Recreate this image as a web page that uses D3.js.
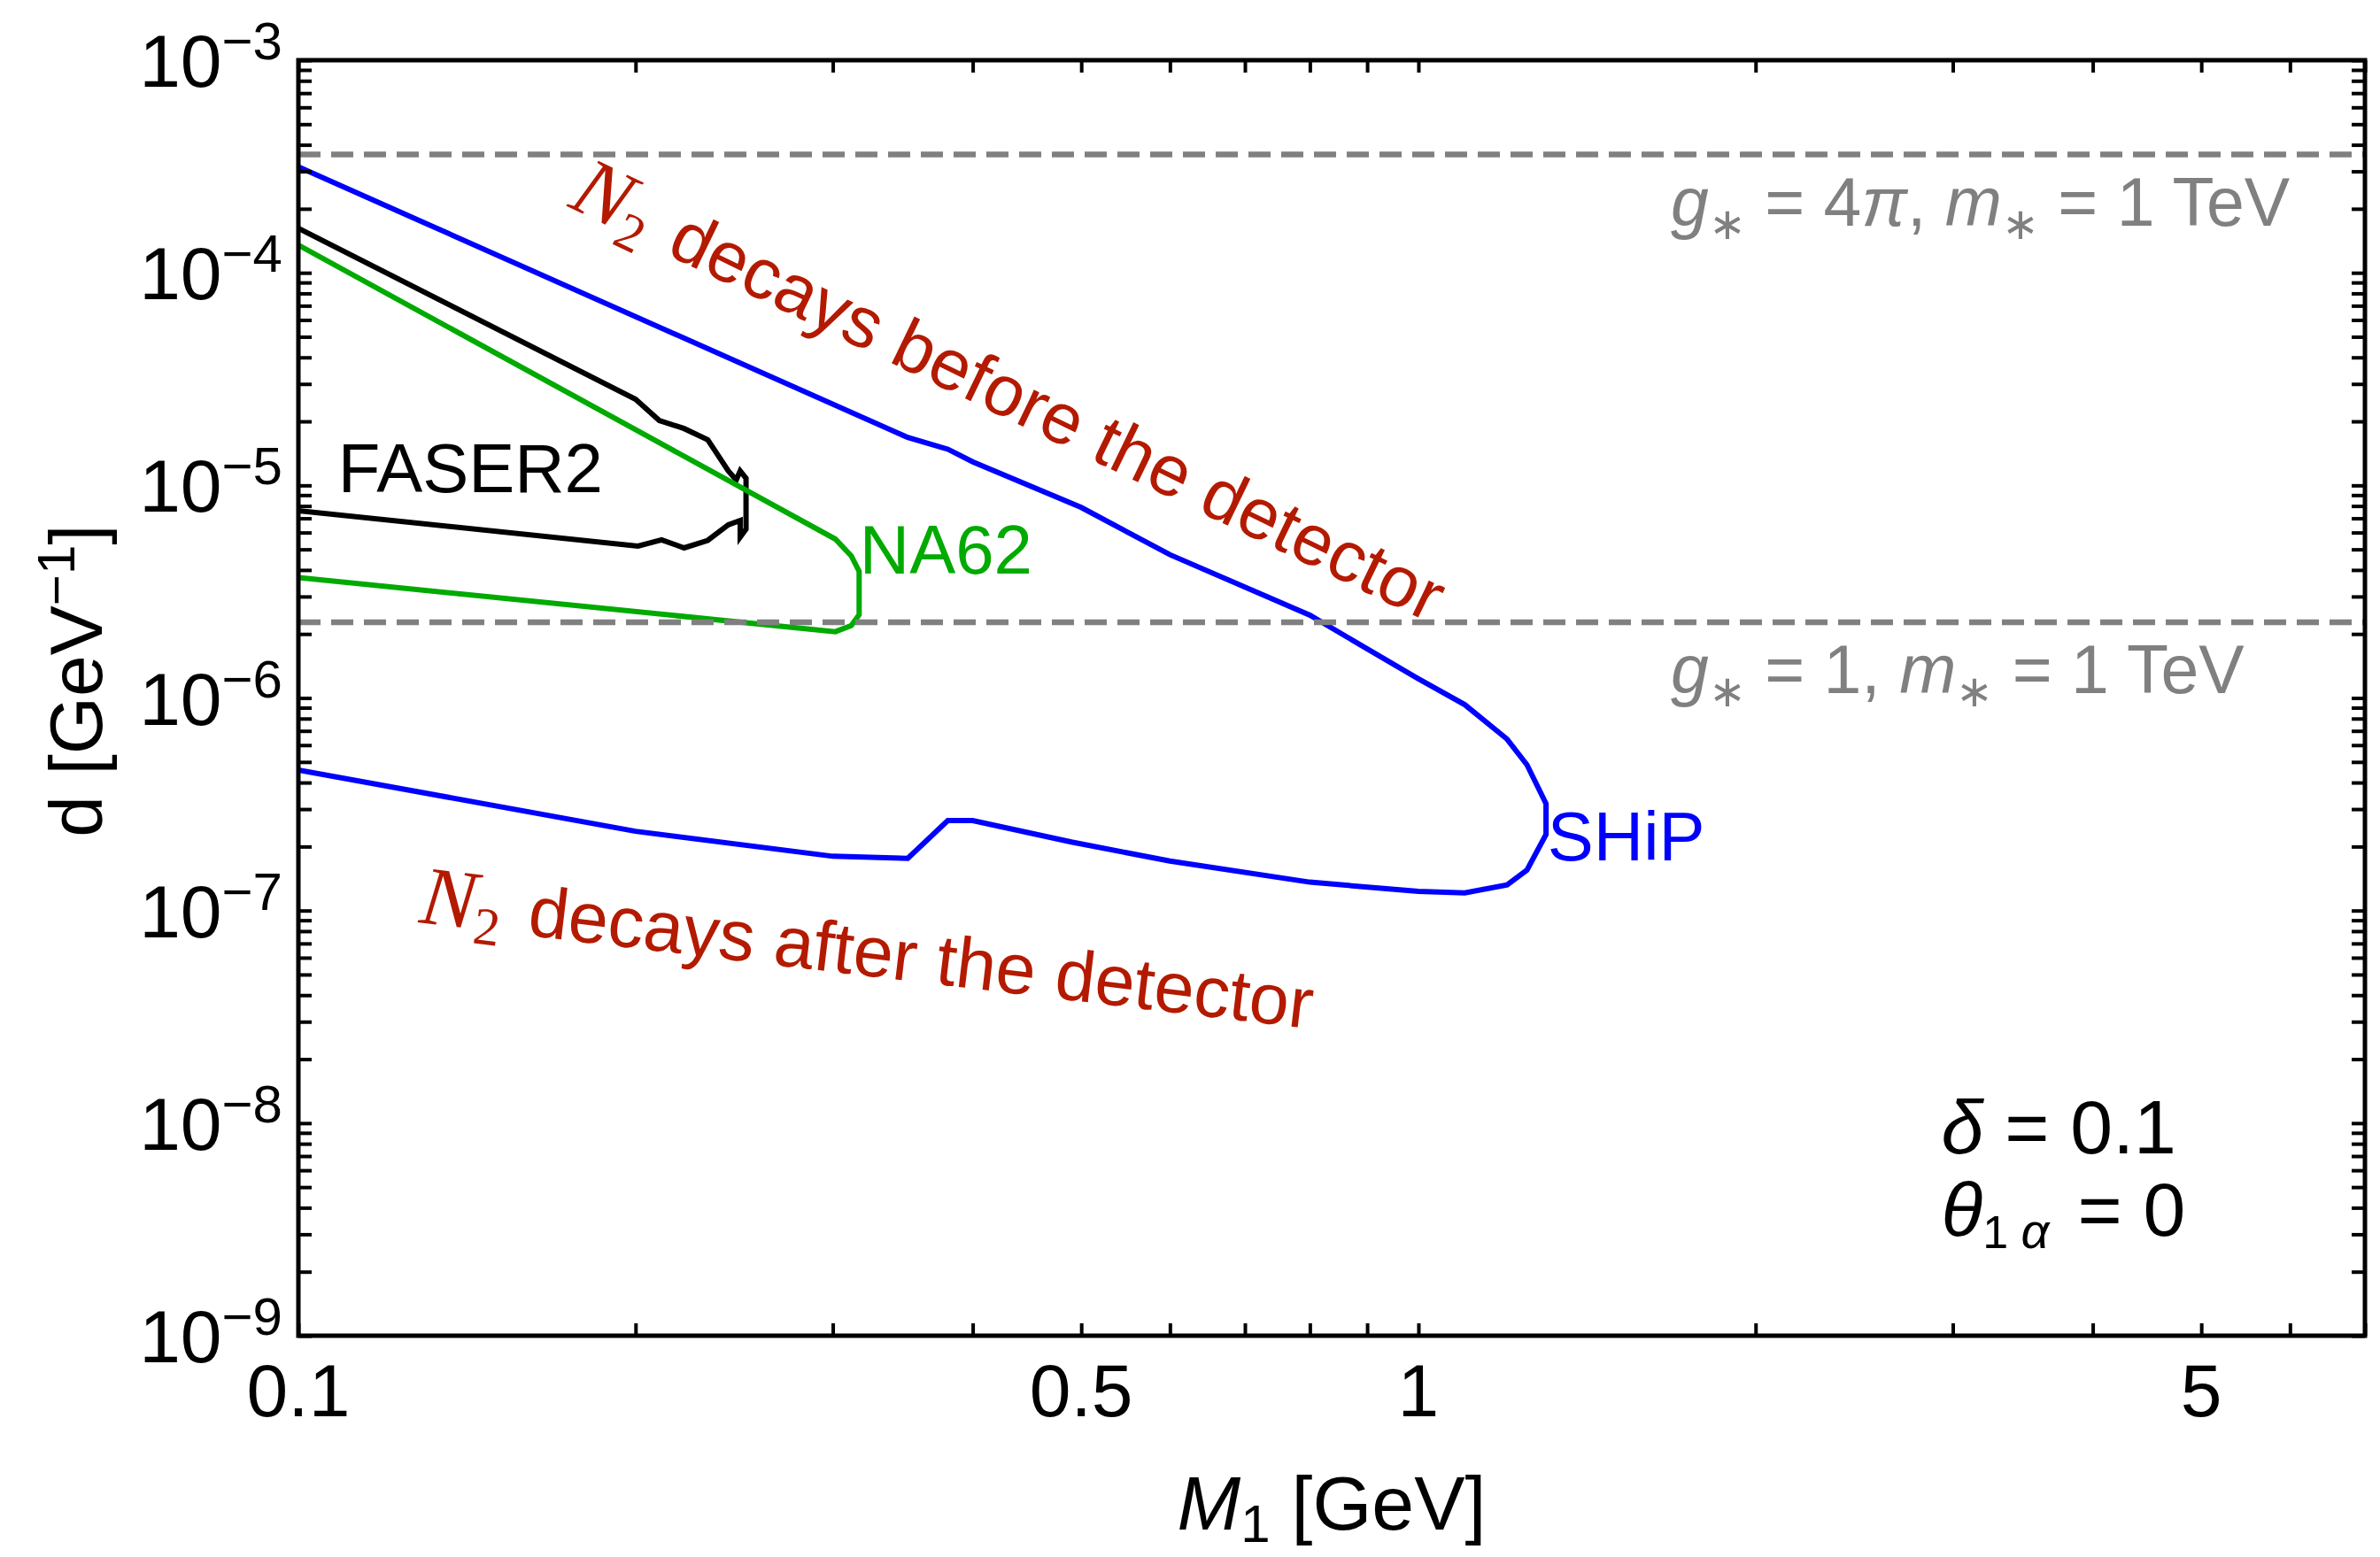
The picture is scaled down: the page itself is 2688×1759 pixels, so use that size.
<!DOCTYPE html>
<html>
<head>
<meta charset="utf-8">
<script src="https://cdn.jsdelivr.net/npm/d3@7/dist/d3.min.js"></script>
<style>
  body { margin: 0; background: #fff; }
  svg { display: block; }
  text { white-space: pre; font-family: "Liberation Sans", Arial, sans-serif; }
</style>
</head>
<body>
<svg id="chart" width="2688" height="1759"></svg>
<script>
// ---- data -------------------------------------------------------------
// SHiP sensitivity contour (M1 in GeV, d in GeV^-1), upper branch then lower branch
const shipM = [0.10, 0.35, 0.38, 0.40, 0.50, 0.60, 0.80, 1.00, 1.10, 1.20, 1.25, 1.30,
               1.30, 1.25, 1.20, 1.10, 1.00, 0.80, 0.60, 0.49, 0.40, 0.38, 0.35, 0.30, 0.20, 0.10];
const shipD = [3.15e-4, 1.68e-5, 1.48e-5, 1.29e-5, 7.87e-6, 4.72e-6, 2.45e-6, 1.23e-6, 9.3e-7, 6.4e-7, 4.85e-7, 3.18e-7,
               2.28e-7, 1.55e-7, 1.32e-7, 1.21e-7, 1.23e-7, 1.36e-7, 1.71e-7, 2.10e-7, 2.65e-7, 2.65e-7, 1.76e-7, 1.80e-7, 2.36e-7, 4.58e-7];

// FASER2 contour
const faserM = [0.10, 0.200, 0.210, 0.221, 0.232, 0.242, 0.246, 0.248, 0.251,
                0.251, 0.248, 0.248, 0.242, 0.232, 0.221, 0.211, 0.201, 0.10];
const faserD = [1.62e-4, 2.54e-5, 2.02e-5, 1.85e-5, 1.64e-5, 1.17e-5, 1.06e-5, 1.17e-5, 1.08e-5,
                6.22e-6, 5.71e-6, 6.84e-6, 6.52e-6, 5.51e-6, 5.08e-6, 5.54e-6, 5.18e-6, 7.60e-6];

// NA62 contour
const na62M = [0.10, 0.3016, 0.3116, 0.3167, 0.3167, 0.3116, 0.3016, 0.10];
const na62D = [1.35e-4, 5.59e-6, 4.66e-6, 3.94e-6, 2.46e-6, 2.19e-6, 2.05e-6, 3.68e-6];

// reference couplings: g* = 4π and g* = 1 at m* = 1 TeV
const refLevels = [3.6e-4, 2.27e-6];
const refLabels = [
  [{t: "g", it: true}, {t: "\u2217", size: 50, shift: 15}, {t: " = 4"}, {t: "\u03c0", it: true}, {t: ", "},
   {t: "m", it: true}, {t: "\u2217", size: 50, shift: 15}, {t: " = 1 TeV"}],
  [{t: "g", it: true}, {t: "\u2217", size: 50, shift: 15}, {t: " = 1, "},
   {t: "m", it: true}, {t: "\u2217", size: 50, shift: 15}, {t: " = 1 TeV"}]
];

// axis ticks
const xMajor = [0.1, 0.5, 1, 5];
const xMajorLabels = ["0.1", "0.5", "1", "5"];
const xMinor = [0.1, 0.2, 0.3, 0.4, 0.5, 0.6, 0.7, 0.8, 0.9, 1, 2, 3, 4, 5, 6, 7];
const yExponents = [-3, -4, -5, -6, -7, -8, -9];

// ---- layout -----------------------------------------------------------
const W = 2688, H = 1759;
const margin = {left: 337, right: W - 2671, top: 68, bottom: H - 1509};
const x0 = margin.left, x1 = W - margin.right, y0 = H - margin.bottom, y1 = margin.top;

const x = d3.scaleLog().domain([0.1, 7]).range([x0, x1]);
const y = d3.scaleLog().domain([1e-9, 1e-3]).range([y0, y1]);

const yMinor = [];
for (let k = -9; k < -3; k++) for (let m = 1; m <= 9; m++) yMinor.push(m * Math.pow(10, k));
yMinor.push(1e-3);

const svg = d3.select("#chart");
svg.append("rect").attr("width", W).attr("height", H).attr("fill", "#fff");

svg.append("defs").append("clipPath").attr("id", "plotArea")
  .append("rect").attr("x", x0).attr("y", y1).attr("width", x1 - x0).attr("height", y0 - y1);

// rich text helper: runs with optional italic, size and baseline shift
function rich(textSel, runs, baseSize) {
  let cur = 0;
  runs.forEach(r => {
    const s = r.shift || 0;
    const ts = textSel.append("tspan")
      .attr("font-size", r.size || baseSize)
      .text(r.t);
    if (s - cur !== 0) ts.attr("dy", s - cur);
    if (r.it) ts.attr("font-style", "italic");
    if (r.family) ts.attr("font-family", r.family);
    if (r.dx) ts.attr("dx", r.dx);
    cur = s;
  });
  return textSel;
}

// ---- curves -----------------------------------------------------------
const line = d3.line().x(d => x(d[0])).y(d => y(d[1]));
const plot = svg.append("g").attr("clip-path", "url(#plotArea)");

const curves = [
  {m: shipM, d: shipD, color: "#0000ff"},
  {m: faserM, d: faserD, color: "#000000"},
  {m: na62M, d: na62D, color: "#00aa00"}
];
plot.selectAll("path.curve").data(curves).join("path")
  .attr("class", "curve")
  .attr("d", c => line(c.m.map((m, i) => [m, c.d[i]])))
  .attr("fill", "none")
  .attr("stroke", c => c.color)
  .attr("stroke-width", 6)
  .attr("stroke-linejoin", "miter")
  .attr("stroke-miterlimit", 4);

// reference dashed levels
plot.selectAll("line.ref").data(refLevels).join("line")
  .attr("class", "ref")
  .attr("x1", x0).attr("x2", x1)
  .attr("y1", d => y(d)).attr("y2", d => y(d))
  .attr("stroke", "#808080")
  .attr("stroke-width", 6.5)
  .attr("stroke-dasharray", "25,12");

refLevels.forEach((v, i) => {
  rich(svg.append("text")
    .attr("x", x(1.68)).attr("y", y(v) + 80)
    .attr("fill", "#808080"), refLabels[i], 77);
});

// ---- axes (ticks on all four sides, pointing inward) ------------------
const tickStyle = g => {
  g.select(".domain").remove();
  g.selectAll(".tick line").attr("stroke", "#000").attr("stroke-width", 4);
  g.selectAll(".tick text").remove();
};
svg.append("g").attr("transform", `translate(0,${y0})`)
  .call(d3.axisBottom(x).tickValues(xMinor).tickSize(-14).tickFormat(""))
  .call(tickStyle);
svg.append("g").attr("transform", `translate(0,${y1})`)
  .call(d3.axisTop(x).tickValues(xMinor).tickSize(-14).tickFormat(""))
  .call(tickStyle);
svg.append("g").attr("transform", `translate(${x0},0)`)
  .call(d3.axisLeft(y).tickValues(yMinor).tickSize(-15).tickFormat(""))
  .call(tickStyle);
svg.append("g").attr("transform", `translate(${x1},0)`)
  .call(d3.axisRight(y).tickValues(yMinor).tickSize(-15).tickFormat(""))
  .call(tickStyle);

// frame
svg.append("rect")
  .attr("x", x0).attr("y", y1).attr("width", x1 - x0).attr("height", y0 - y1)
  .attr("fill", "none").attr("stroke", "#000").attr("stroke-width", 5);

// x tick labels
svg.selectAll("text.xlab").data(xMajor).join("text")
  .attr("class", "xlab")
  .attr("x", d => x(d)).attr("y", y0 + 91)
  .attr("text-anchor", "middle")
  .attr("font-size", 84)
  .text((d, i) => xMajorLabels[i]);

// y tick labels 10^k
svg.selectAll("text.ylab").data(yExponents).join("text")
  .attr("class", "ylab")
  .attr("x", x0 - 18).attr("y", k => y(Math.pow(10, k)) + 30)
  .attr("text-anchor", "end")
  .each(function(k) {
    rich(d3.select(this), [{t: "10"}, {t: "\u2212" + Math.abs(k), size: 60, shift: -31}], 84);
  });

// axis titles
rich(svg.append("text")
  .attr("x", (x0 + x1) / 2).attr("y", 1728)
  .attr("text-anchor", "middle"),
  [{t: "M", it: true}, {t: "1", size: 60, shift: 14}, {t: " [GeV]"}], 86);

rich(svg.append("text")
  .attr("transform", "translate(115,769) rotate(-90)")
  .attr("text-anchor", "middle"),
  [{t: "d [GeV"}, {t: "\u22121", size: 60, shift: -31}, {t: "]"}], 84);

// ---- annotations ------------------------------------------------------
svg.append("text").attr("x", x(0.1085)).attr("y", y(9.29e-6))
  .attr("font-size", 78).attr("fill", "#000").text("FASER2");
svg.append("text").attr("x", x(0.317)).attr("y", y(3.85e-6))
  .attr("font-size", 78).attr("fill", "#00aa00").text("NA62");
svg.append("text").attr("x", x(1.304)).attr("y", y(1.72e-7))
  .attr("font-size", 78).attr("fill", "#0000ff").text("SHiP");

const decayLabels = [
  {m: 0.1736, d: 2.06e-4, angle: 25.8, text: " decays before the detector"},
  {m: 0.1279, d: 8.8e-8, angle: 6.8, text: " decays after the detector"}
];
decayLabels.forEach(l => {
  rich(svg.append("text")
    .attr("transform", `translate(${x(l.m)},${y(l.d)}) rotate(${l.angle})`)
    .attr("fill", "#b31a00"),
    [{t: "N", it: true, size: 94, family: "'Liberation Serif', 'Times New Roman', serif"},
     {t: "2", size: 60, shift: 16, family: "'Liberation Serif', 'Times New Roman', serif"},
     {t: l.text, dx: 8}], 81);
});

// parameter box
rich(svg.append("text").attr("x", x(2.93)).attr("y", y(7.2e-9)),
  [{t: "\u03b4", it: true}, {t: " = 0.1"}], 86);
rich(svg.append("text").attr("x", x(2.93)).attr("y", y(2.96e-9)),
  [{t: "\u03b8", it: true}, {t: "1 ", size: 52, shift: 14}, {t: "\u03b1", it: true, size: 56, shift: 14},
   {t: " = 0", dx: 8}], 86);
</script>
</body>
</html>
